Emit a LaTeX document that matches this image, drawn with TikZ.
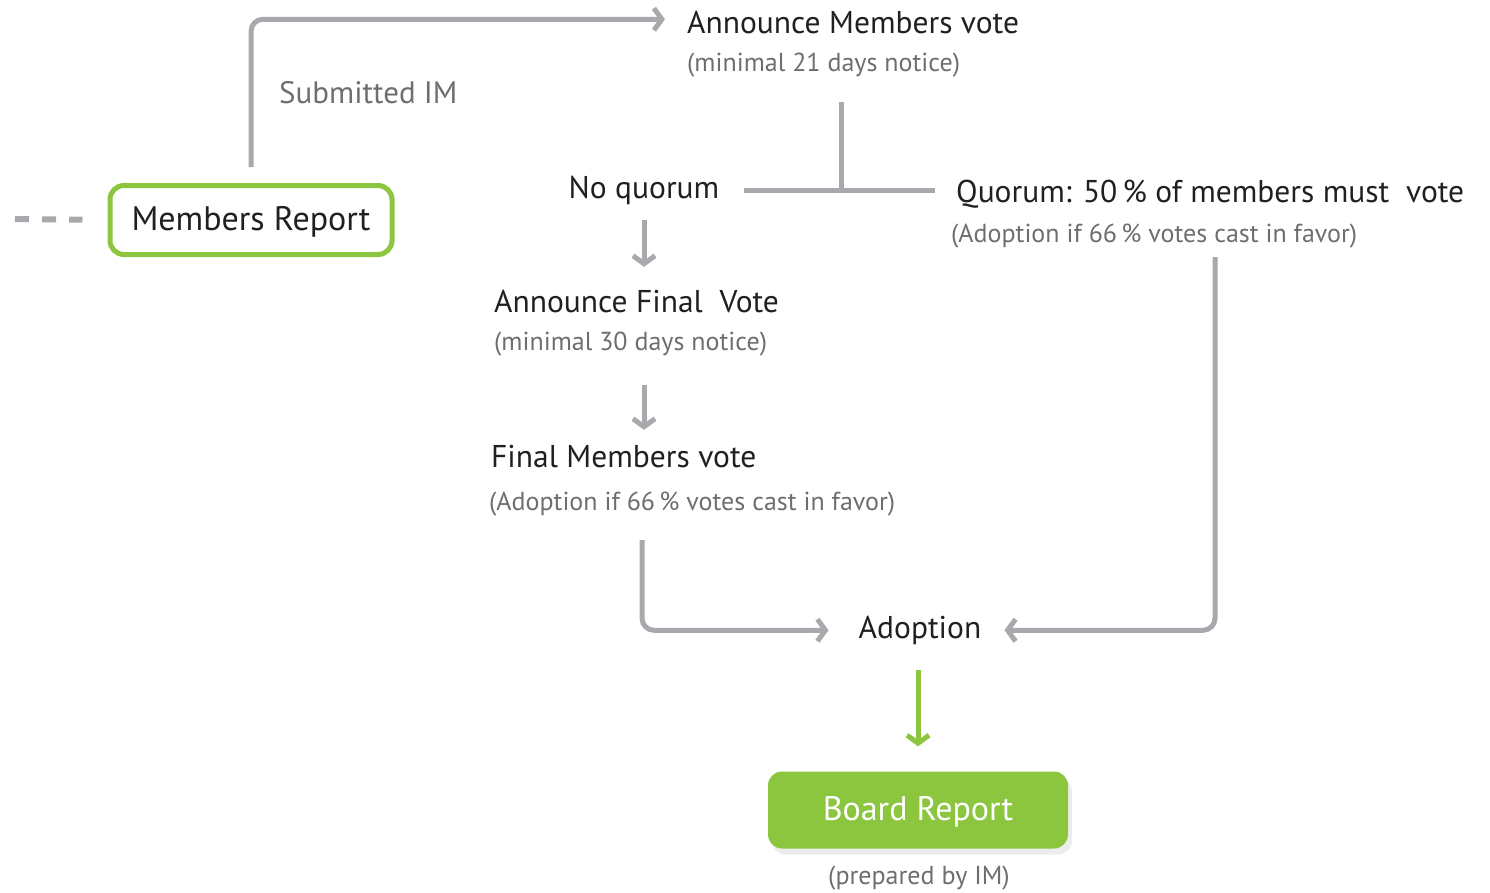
\documentclass[tikz,border=0pt]{standalone}
\usepackage{fontspec}
\setmainfont{PT Sans}
\usetikzlibrary{arrows.meta,shadows}

\definecolor{flowgray}{HTML}{A7A9AC}
\definecolor{flowgreen}{HTML}{8CC63F}
\definecolor{textdark}{HTML}{231F20}
\definecolor{textgray}{HTML}{6D6E71}

\tikzset{
label/.style={
  rectangle,
  draw=none,
  inner sep=0pt,
  text=textdark,
  text height=23pt,
  text depth=7.5pt,
  font=\fontsize{31.5}{36}\selectfont,
},
note/.style={
  label,
  text=textgray,
  text height=19pt,
  text depth=6pt,
  font=\fontsize{26}{30}\selectfont,
},
boxlabel/.style={
  label,
  text depth=3pt,
  rounded corners=14pt,
  font=\fontsize{34}{40}\selectfont,
},
link/.style={draw=flowgray, line width=5pt, rounded corners=12pt},
flow/.style={link, -{Straight Barb[length=8pt,width=22pt]}},
}

\begin{document}
\begin{tikzpicture}[x=1pt, y=-1pt]
\useasboundingbox (0,0) rectangle (1490,892);
%left side
\node[boxlabel, draw=flowgreen, line width=5pt,
  minimum width=282pt, minimum height=69pt](members) at (251,220) {Members Report};
\coordinate (previous) at (15,219);
\node[note, font=\fontsize{31}{36}\selectfont, anchor=base west](submitted) at (279,103) {Submitted IM};

%first vote
\node[label, anchor=base west](announce) at (687,33) {Announce Members vote};
\node[note, anchor=base west](announcenote) at (687,71) {(minimal 21 days notice)};
\coordinate (split) at (841,190);
\node[label, anchor=base](noquorum) at (644,198) {No quorum};
\node[label, anchor=base west](quorum) at (956,202) {Quorum: 50\,\% of members must\ \ vote};
\node[note, anchor=base west](quorumnote) at (951,242) {(Adoption if 66\,\% votes cast in favor)};
\coordinate (quorumdrop) at (1215,257);

%final vote
\node[label, anchor=base west](finalannounce) at (494,312) {Announce Final\ \ Vote};
\node[note, anchor=base west](finalannouncenote) at (494,350) {(minimal 30 days notice)};
\node[label, anchor=base west](finalvote) at (491,467) {Final Members vote};
\node[note, anchor=base west](finalvotenote) at (489,510) {(Adoption if 66\,\% votes cast in favor)};

%result
\node[label, anchor=base](adoption) at (920,638) {Adoption};
\node[boxlabel, text=white, fill=flowgreen, minimum width=300pt, minimum height=77pt,
  drop shadow={opacity=0.15, shadow xshift=4pt, shadow yshift=-6pt}](board) at (918,810) {Board Report};
\node[note, anchor=base](prepared) at (919,884) {(prepared by IM)};

\draw[draw=flowgray, line width=6pt, dash pattern=on 14pt off 13pt, shorten >=25pt](previous) -- (members.west);
\draw[flow, shorten <=16pt, shorten >=22pt](members.north) |- ([yshift=6pt]announce.west);
\draw[link, shorten >=25pt](split) -- (split |- announcenote.south);
\draw[link, shorten <=25pt, shorten >=21pt](noquorum.east |- split) -- (quorum.west |- split);
\draw[flow, shorten <=14pt, shorten >=22pt](noquorum.south) -- (noquorum.south |- finalannounce.north);
\draw[flow, shorten <=29pt, shorten >=14pt](noquorum.south |- finalannouncenote.south) -- (noquorum.south |- finalvote.north);
\draw[flow, shorten <=24pt, shorten >=30pt]([xshift=-2pt]noquorum.south |- finalvotenote.south) |- (adoption.west);
\draw[flow, shorten >=23pt](quorumdrop) |- (adoption.east);
\draw[flow, draw=flowgreen, shorten <=24pt, shorten >=25pt](adoption.south -| board.north) -- (board.north);

\end{tikzpicture}
\end{document}
